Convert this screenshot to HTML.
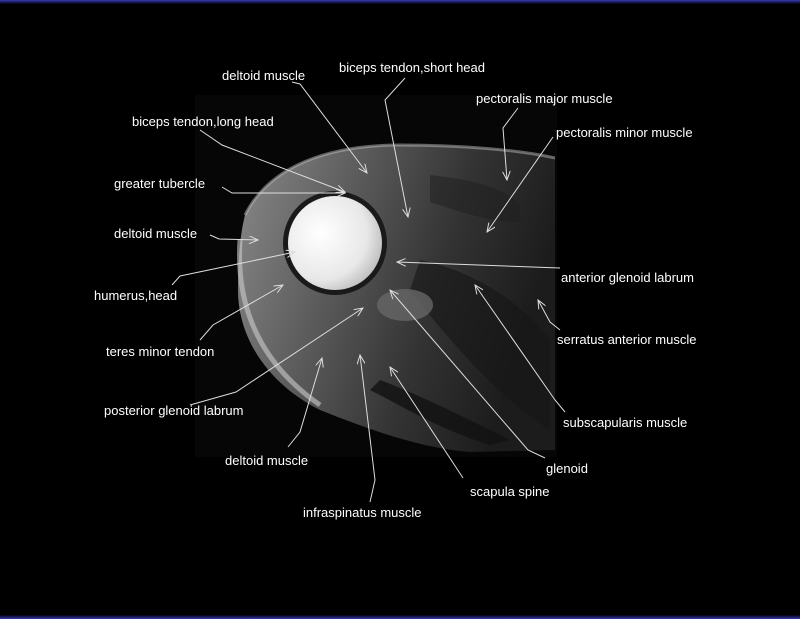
<!DOCTYPE html>
<html><head><style>
html,body{margin:0;padding:0;background:#000;width:800px;height:619px;overflow:hidden}
svg text{font-family:"Liberation Sans",sans-serif;font-size:13px;fill:#fff}
</style></head><body>
<svg width="800" height="619" viewBox="0 0 800 619" xmlns="http://www.w3.org/2000/svg">
<defs>
<linearGradient id="bt" x1="0" y1="0" x2="0" y2="1"><stop offset="0" stop-color="#3a3ab0"/><stop offset="1" stop-color="#000010"/></linearGradient>
<linearGradient id="bb" x1="0" y1="1" x2="0" y2="0"><stop offset="0" stop-color="#3a3ab0"/><stop offset="1" stop-color="#000010"/></linearGradient>
<linearGradient id="arm" x1="0" y1="0" x2="1" y2="0.3"><stop offset="0" stop-color="#8a8a8a"/><stop offset="0.35" stop-color="#5e5e5e"/><stop offset="0.7" stop-color="#333"/><stop offset="1" stop-color="#1c1c1c"/></linearGradient>
<radialGradient id="hh" cx="0.35" cy="0.4" r="0.7"><stop offset="0" stop-color="#fff"/><stop offset="0.7" stop-color="#e8e8e8"/><stop offset="1" stop-color="#bbb"/></radialGradient>
<marker id="a" markerWidth="10" markerHeight="8" refX="9" refY="4" orient="auto" markerUnits="userSpaceOnUse"><path d="M0,0 L9,4 L0,8" fill="none" stroke="#ddd" stroke-width="1"/></marker>
</defs>
<rect x="0" y="0" width="800" height="4" fill="url(#bt)"/>
<rect x="0" y="615" width="800" height="4" fill="url(#bb)"/>
<rect x="195" y="95" width="362" height="362" fill="#060606"/>
<path d="M245,215 C270,165 330,145 400,145 C460,145 520,150 555,158 L555,450 L470,452 C420,448 370,430 320,410 C270,385 238,340 238,290 C238,260 240,235 245,215 Z" fill="url(#arm)"/>
<path d="M245,215 C270,165 330,145 400,145 C460,145 520,150 555,158" fill="none" stroke="#bbb" stroke-width="3" opacity="0.5"/>
<path d="M240,240 C236,300 255,360 320,405" fill="none" stroke="#ccc" stroke-width="5" opacity="0.6"/>
<path d="M430,175 C470,180 500,185 520,205 L520,222 C490,222 460,212 430,202 Z" fill="#1e1e1e" opacity="0.5"/>
<path d="M380,380 C420,395 470,420 510,440 L490,445 C440,430 400,405 370,390 Z" fill="#111" opacity="0.8"/>
<path d="M420,260 C470,270 520,300 550,340 L550,430 C500,400 440,330 410,290 Z" fill="#151515" opacity="0.6"/>
<circle cx="335" cy="243" r="52" fill="#1a1a1a"/>
<circle cx="335" cy="243" r="47" fill="url(#hh)"/>
<ellipse cx="405" cy="305" rx="28" ry="16" fill="#666" opacity="0.8"/>
<g stroke="#ddd" stroke-width="1" fill="none" marker-end="url(#a)">
<polyline points="292,82 300,84 367,173"/>
<polyline points="405,78 385,100 408,217"/>
<polyline points="518,108 503,128 507,180"/>
<polyline points="553,137 487,232"/>
<polyline points="200,130 222,145 345,192"/>
<polyline points="222,187 232,193 345,193"/>
<polyline points="210,235 219,239 258,240"/>
<polyline points="172,285 180,276 295,252"/>
<polyline points="200,340 213,325 283,285"/>
<polyline points="190,405 236,392 363,308"/>
<polyline points="288,447 300,432 322,358"/>
<polyline points="370,502 375,480 360,355"/>
<polyline points="463,478 390,367"/>
<polyline points="545,458 528,450 390,290"/>
<polyline points="565,412 555,400 475,285"/>
<polyline points="560,330 550,322 538,300"/>
<polyline points="560,268 397,262"/>
</g>
<text x="222" y="80">deltoid muscle</text>
<text x="339" y="72">biceps tendon,short head</text>
<text x="476" y="103">pectoralis major muscle</text>
<text x="556" y="137">pectoralis minor muscle</text>
<text x="132" y="126">biceps tendon,long head</text>
<text x="114" y="188">greater tubercle</text>
<text x="114" y="238">deltoid muscle</text>
<text x="94" y="300">humerus,head</text>
<text x="106" y="356">teres minor tendon</text>
<text x="104" y="415">posterior glenoid labrum</text>
<text x="225" y="465">deltoid muscle</text>
<text x="303" y="517">infraspinatus muscle</text>
<text x="470" y="496">scapula spine</text>
<text x="546" y="473">glenoid</text>
<text x="563" y="427">subscapularis muscle</text>
<text x="557" y="344">serratus anterior muscle</text>
<text x="561" y="282">anterior glenoid labrum</text>
</svg>
</body></html>
